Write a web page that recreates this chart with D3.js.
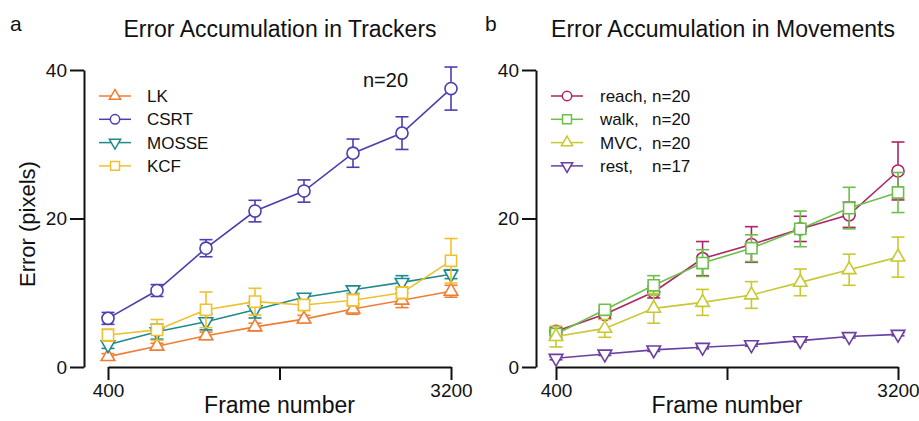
<!DOCTYPE html>
<html>
<head>
<meta charset="utf-8">
<script src="https://cdn.jsdelivr.net/npm/d3@7"></script>
<style>
  body { margin: 0; background: #fff; }
  svg { font-family: "Liberation Sans", Arial, sans-serif; }
</style>
</head>
<body>
<svg id="chart" width="919" height="421"></svg>
<script>
// frame numbers shared by both panels
const frames = [400, 800, 1200, 1600, 2000, 2400, 2800, 3200];

// panel a: trackers
const trackerNames = ["LK", "CSRT", "MOSSE", "KCF"];
const lkMean = [1.4, 2.8, 4.2, 5.4, 6.45, 7.8, 9.0, 10.2];
const lkErr = [0.4, 0.4, 0.5, 0.5, 0.5, 0.7, 1.0, 0.8];
const csrtMean = [6.55, 10.3, 16.0, 21.0, 23.7, 28.8, 31.5, 37.5];
const csrtErr = [0.8, 0.8, 1.15, 1.45, 1.5, 1.9, 2.2, 2.9];
const mosseMean = [3.0, 4.75, 6.1, 7.7, 9.4, 10.4, 11.4, 12.5];
const mosseErr = [0.5, 1.0, 1.1, 1.1, 0.4, 0.5, 0.9, 0.6];
const kcfMean = [4.3, 5.0, 7.7, 8.8, 8.35, 9.0, 10.0, 14.3];
const kcfErr = [0.8, 1.4, 2.4, 1.8, 0.6, 0.8, 0.8, 3.0];

// panel b: movements
const movementNames = ["reach,", "walk,", "MVC,", "rest,"];
const movementN = ["n=20", "n=20", "n=20", "n=17"];
const reachMean = [4.8, 7.1, 10.1, 14.6, 16.5, 18.6, 20.5, 26.4];
const reachErr = [0.5, 0.6, 0.8, 2.3, 2.4, 1.7, 1.7, 3.9];
const walkMean = [4.45, 7.7, 11.0, 14.0, 16.0, 18.6, 21.4, 23.5];
const walkErr = [0.5, 0.5, 1.3, 1.8, 1.8, 2.4, 2.8, 2.7];
const mvcMean = [4.1, 5.2, 7.9, 8.7, 9.7, 11.4, 13.1, 14.8];
const mvcErr = [1.4, 1.2, 2.0, 1.75, 1.8, 1.8, 2.1, 2.7];
const restMean = [1.17, 1.75, 2.3, 2.65, 3.0, 3.55, 4.1, 4.4];
const restErr = [0.2, 0.2, 0.2, 0.2, 0.2, 0.2, 0.2, 0.2];

const yTicks = [0, 20, 40];
const xTicks = [400, 1800, 3200];

const svg = d3.select("#chart");

const shapes = {
  circle: d3.symbolCircle,
  square: d3.symbolSquare,
  up: d3.symbolTriangle,
  down: d3.symbolTriangle,
};
const markerSize = { circle: 115, square: 125, up: 80, down: 80 };
const legendSize = { circle: 70, square: 80, up: 55, down: 55 };

function panel(opts) {
  const x = d3.scaleLinear().domain([400, 3200]).range(opts.xRange);
  const y = d3.scaleLinear().domain([0, 40]).range([367, 70]);

  const g = svg.append("g");

  // axes
  const yAxis = g.append("g")
    .attr("transform", `translate(${opts.yAxisX},0)`)
    .call(d3.axisLeft(y).tickValues(yTicks).tickSize(14).tickSizeOuter(0).tickPadding(3));
  const xAxis = g.append("g")
    .attr("transform", "translate(0,367)")
    .call(d3.axisBottom(x).tickValues(xTicks).tickSize(13).tickSizeOuter(0).tickPadding(4)
      .tickFormat((d) => (d === 1800 ? "" : d)));
  [yAxis, xAxis].forEach((a) => {
    a.selectAll("path, line").attr("stroke", "#111").attr("stroke-width", 2);
    a.selectAll("text").attr("font-size", 19).attr("fill", "#111")
      .attr("font-family", "Liberation Sans, Arial, sans-serif");
  });

  // series
  opts.series.forEach((s) => {
    const pts = frames.map((f, i) => ({ f: f, m: s.mean[i], e: s.err[i] }));
    const sg = g.append("g");
    sg.append("path")
      .datum(pts)
      .attr("fill", "none")
      .attr("stroke", s.color)
      .attr("stroke-width", 1.6)
      .attr("d", d3.line().x((d) => x(d.f)).y((d) => y(d.m)));

    const bars = sg.selectAll(".err").data(pts).join("g")
      .attr("stroke", s.color).attr("stroke-width", 1.6);
    bars.append("line")
      .attr("x1", (d) => x(d.f)).attr("x2", (d) => x(d.f))
      .attr("y1", (d) => y(d.m - d.e)).attr("y2", (d) => y(d.m + d.e));
    bars.append("line")
      .attr("x1", (d) => x(d.f) - 6.5).attr("x2", (d) => x(d.f) + 6.5)
      .attr("y1", (d) => y(d.m + d.e)).attr("y2", (d) => y(d.m + d.e));
    bars.append("line")
      .attr("x1", (d) => x(d.f) - 6.5).attr("x2", (d) => x(d.f) + 6.5)
      .attr("y1", (d) => y(d.m - d.e)).attr("y2", (d) => y(d.m - d.e));

    sg.selectAll(".mk").data(pts).join("path")
      .attr("d", d3.symbol(shapes[s.shape], markerSize[s.shape]))
      .attr("transform", (d) =>
        `translate(${x(d.f)},${y(d.m)})` + (s.shape === "down" ? " rotate(180)" : ""))
      .attr("fill", "#fff")
      .attr("stroke", s.color)
      .attr("stroke-width", 1.6);
  });

  // legend
  const lg = g.append("g");
  opts.series.forEach((s, i) => {
    const cy = 96 + i * 23.3;
    const cx = opts.legendX;
    lg.append("line")
      .attr("x1", cx - 16).attr("x2", cx + 16).attr("y1", cy).attr("y2", cy)
      .attr("stroke", s.color).attr("stroke-width", 1.5);
    lg.append("path")
      .attr("d", d3.symbol(shapes[s.shape], legendSize[s.shape]))
      .attr("transform", `translate(${cx},${cy})` + (s.shape === "down" ? " rotate(180)" : ""))
      .attr("fill", "#fff").attr("stroke", s.color).attr("stroke-width", 1.5);
    lg.append("text")
      .attr("x", opts.legendTextX).attr("y", cy).attr("dy", "0.36em")
      .attr("font-size", 17).attr("fill", "#111")
      .text(s.name);
    if (s.n) {
      lg.append("text")
        .attr("x", opts.legendTextX + 52).attr("y", cy).attr("dy", "0.36em")
        .attr("font-size", 17).attr("fill", "#111")
        .text(s.n);
    }
  });

  // title and panel letter
  g.append("text")
    .attr("x", opts.titleX).attr("y", 37).attr("text-anchor", "middle")
    .attr("font-size", 23).attr("fill", "#111").text(opts.title);
  g.append("text")
    .attr("x", opts.letterX).attr("y", 31)
    .attr("font-size", 21).attr("fill", "#111").text(opts.letter);

  // x label
  g.append("text")
    .attr("x", (opts.xRange[0] + opts.xRange[1]) / 2).attr("y", 413)
    .attr("text-anchor", "middle").attr("font-size", 23).attr("fill", "#111")
    .text("Frame number");

  return g;
}

const colors = {
  LK: "#f07d34",
  CSRT: "#4a3fae",
  MOSSE: "#1f8a8a",
  KCF: "#f0c030",
  reach: "#ad2466",
  walk: "#6cbf48",
  MVC: "#c8c832",
  rest: "#6b3ea1",
};

const left = panel({
  xRange: [108, 451],
  yAxisX: 84,
  legendX: 115,
  legendTextX: 147,
  titleX: 280,
  letterX: 10,
  letter: "a",
  title: "Error Accumulation in Trackers",
  series: [
    { name: trackerNames[0], mean: lkMean, err: lkErr, color: colors.LK, shape: "up" },
    { name: trackerNames[1], mean: csrtMean, err: csrtErr, color: colors.CSRT, shape: "circle" },
    { name: trackerNames[2], mean: mosseMean, err: mosseErr, color: colors.MOSSE, shape: "down" },
    { name: trackerNames[3], mean: kcfMean, err: kcfErr, color: colors.KCF, shape: "square" },
  ],
});

left.append("text")
  .attr("x", 363).attr("y", 87)
  .attr("font-size", 20).attr("fill", "#111").text("n=20");

left.append("text")
  .attr("transform", "translate(35,224) rotate(-90)")
  .attr("text-anchor", "middle").attr("font-size", 22).attr("fill", "#111")
  .text("Error (pixels)");

panel({
  xRange: [556, 898],
  yAxisX: 536,
  legendX: 567,
  legendTextX: 600,
  titleX: 723,
  letterX: 485,
  letter: "b",
  title: "Error Accumulation in Movements",
  series: [
    { name: movementNames[0], n: movementN[0], mean: reachMean, err: reachErr, color: colors.reach, shape: "circle" },
    { name: movementNames[1], n: movementN[1], mean: walkMean, err: walkErr, color: colors.walk, shape: "square" },
    { name: movementNames[2], n: movementN[2], mean: mvcMean, err: mvcErr, color: colors.MVC, shape: "up" },
    { name: movementNames[3], n: movementN[3], mean: restMean, err: restErr, color: colors.rest, shape: "down" },
  ],
});
</script>
</body>
</html>
